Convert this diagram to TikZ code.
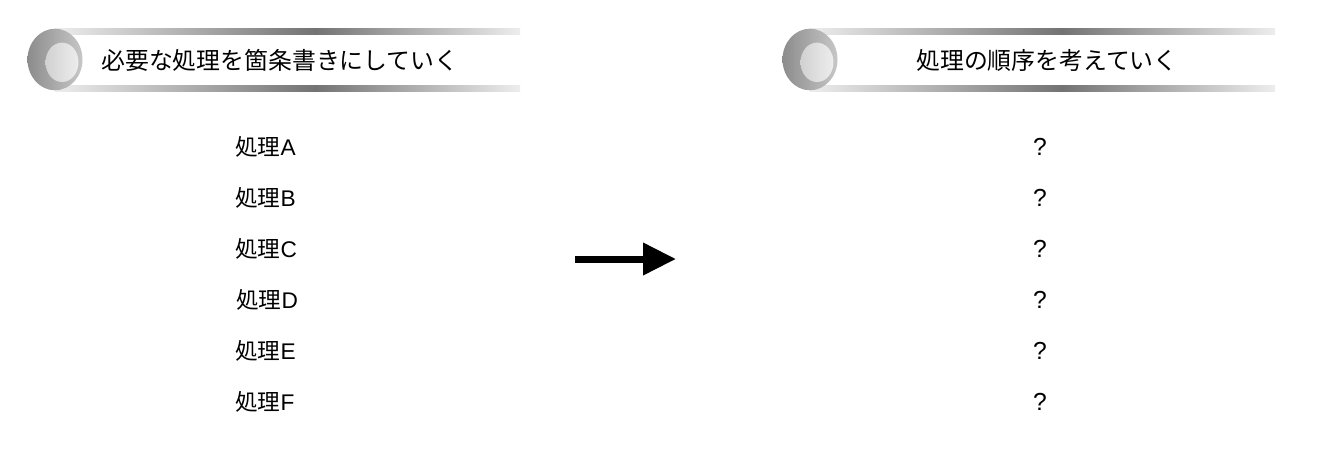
\documentclass[tikz,border=0pt]{standalone}
\usepackage{fontspec}
\setmainfont{Noto Sans CJK JP}
\newfontfamily\latinfont{Liberation Sans}
\usetikzlibrary{arrows.meta}
\definecolor{barlight}{gray}{0.93}
\definecolor{bardark}{gray}{0.45}
\tikzset{
  item/.style={anchor=west, inner sep=0pt, font=\fontsize{17pt}{20pt}\selectfont},
  qmark/.style={anchor=center, inner sep=0pt, font=\latinfont\fontsize{18.5pt}{20pt}\selectfont},
  htitle/.style={inner sep=0pt, font=\fontsize{17.9pt}{20pt}\selectfont},
  bigarrow/.style={line width=5.25pt, -{Triangle[length=24.75pt, width=23.25pt]}},
}
\newcommand{\headerdeco}[3]{% cx, dark x, right end
  \shade[left color=barlight, right color=bardark] (#1,28) rectangle (#2,34);
  \shade[left color=bardark, right color=barlight] (#2,28) rectangle (#3,34);
  \shade[left color=barlight, right color=bardark] (#1,85) rectangle (#2,91);
  \shade[left color=bardark, right color=barlight] (#2,85) rectangle (#3,91);
  \shade[left color=black!45, right color=black!22] (#1,59.5) ellipse [x radius=27.5, y radius=30.8];
  \shade[left color=black!18, right color=black!7] (#1+7,62.3) ellipse [x radius=16.5, y radius=19.7];
}
\newcommand{\lat}[1]{{\latinfont #1}}
\begin{document}
\begin{tikzpicture}[x=0.75pt, y=-0.75pt]
\useasboundingbox[fill=white] (0,0) rectangle (1334,458);
% headers
\headerdeco{55}{315}{520}
\headerdeco{810}{1062}{1275}
\node[htitle, anchor=west] (t1) at (101,60) {必要な処理を箇条書きにしていく};
\node[htitle] (t2) at (1047,60) {処理の順序を考えていく};
% items
\node[item] (a) at (235,147) {処理\lat{A}};
\node[item] (b) at (235,198) {処理\lat{B}};
\node[item] (c) at (235,249) {処理\lat{C}};
\node[item] (d) at (236,300) {処理\lat{D}};
\node[item] (e) at (235,351) {処理\lat{E}};
\node[item] (f) at (235,402) {処理\lat{F}};
\node[qmark] (q1) at (1040,147) {?};
\node[qmark] (q2) at (1040,198) {?};
\node[qmark] (q3) at (1040,249) {?};
\node[qmark] (q4) at (1040,300) {?};
\node[qmark] (q5) at (1040,351) {?};
\node[qmark] (q6) at (1040,402) {?};
% arrow
\coordinate (as) at (575,259);
\coordinate (ae) at (676,259);
\draw[bigarrow] (as) -- (ae);
\end{tikzpicture}
\end{document}
